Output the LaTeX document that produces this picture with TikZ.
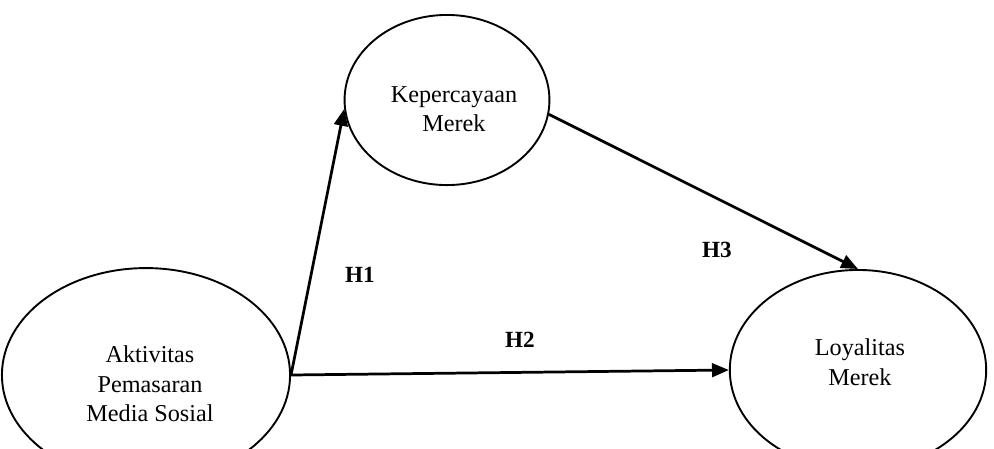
\documentclass[tikz,border=0pt]{standalone}
\usepackage{fontspec}
\setmainfont{Liberation Serif}
\usepackage{tikz}
\usetikzlibrary{arrows.meta,positioning,shapes.geometric}

\begin{document}
\begin{tikzpicture}[
  x=0.0167cm, y=-0.0167cm,
  var/.style={draw, ellipse, line width=0.9pt, inner sep=0pt},
  vtext/.style={align=center, font=\fontsize{11.5}{14}\selectfont},
  hyp/.style={font=\fontsize{11}{13}\selectfont\bfseries},
  arrow/.style={-{Triangle[length=8pt, width=6.5pt]}, line width=1.3pt}
]
\clip (0,0) rectangle (994,448);
\fill[white] (0,0) rectangle (994,448);
\node[var, minimum width=4.81cm, minimum height=3.57cm] (ams) at (146,375) {};
\node[var, minimum width=3.42cm, minimum height=2.84cm] (kep) at (447,100) {};
\node[var, minimum width=4.28cm, minimum height=3.34cm] (loy) at (858,370) {};
\node[vtext] (amsText) at (150,384) {Aktivitas\\Pemasaran\\Media Sosial};
\node[vtext] (kepText) at (454,109) {Kepercayaan\\Merek};
\node[vtext] (loyText) at (860,362) {Loyalitas\\Merek};
\draw[arrow] (ams.east) -- (kep.185);
\draw[arrow] (ams.east) -- (loy.west);
\draw[arrow] (kep.-8) -- (loy.north);
\node[hyp] (h1) at (360,275) {H1};
\node[hyp] (h2) at (520,340) {H2};
\node[hyp] (h3) at (717,250) {H3};
\end{tikzpicture}
\end{document}
